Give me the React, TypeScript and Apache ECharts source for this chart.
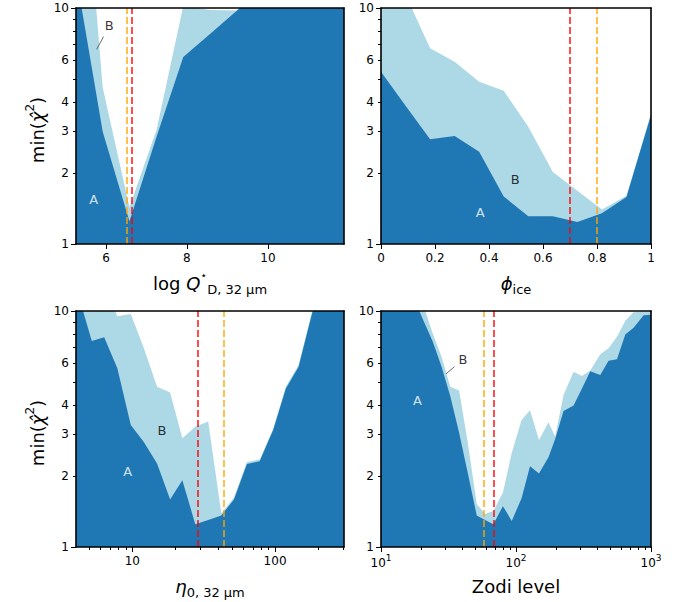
import React, { useEffect, useRef } from 'react';
import * as echarts from 'echarts';

const FONT = 'DejaVu Sans';
const DARK = '#1f77b4';
const LIGHT = '#add8e6';
const RED = 'rgba(255,0,0,0.7)';
const ORANGE = 'rgba(255,165,0,0.7)';

// Panel 1: log Q*_D
const qdX = [5.26, 5.92, 6.58, 7.25, 7.91, 8.57, 9.23, 9.9, 10.56, 11.22, 11.88];
const qdA = [13.8, 2.99, 1.25, 2.85, 6.2, 7.76, 9.73, 12.2, 14, 16, 18];
const qdB = [110, 4.6, 1.43, 3.05, 10.2, 9.8, 9.75, 12.2, 14, 16, 18];
const qdTicks = [6, 8, 10];

// Panel 2: phi_ice
const iceX = [0, 0.0909, 0.1818, 0.2727, 0.3636, 0.4545, 0.5455, 0.6364, 0.7273, 0.8182, 0.9091, 1.0];
const iceA = [5.37, 3.85, 2.78, 2.87, 2.46, 1.59, 1.31, 1.31, 1.24, 1.35, 1.58, 3.52];
const iceB = [16, 11.4, 6.75, 5.92, 4.87, 4.46, 3.14, 2.02, 1.68, 1.4, 1.6, 3.56];
const iceTicks = [0, 0.2, 0.4, 0.6, 0.8, 1];

// Panel 3: eta_0
const etaX = [3.43, 4.22, 5.2, 6.35, 7.85, 9.75, 12.0, 14.9, 18.4, 22.4, 27.6, 34, 42, 51.5, 63.5, 78, 97, 119, 146, 182, 224, 276, 340];
const etaA = [14, 11.5, 7.46, 7.74, 5.72, 3.29, 2.79, 2.26, 1.59, 1.92, 1.25, 1.3, 1.36, 1.59, 2.25, 2.31, 3.13, 4.7, 5.79, 9.8, 14, 20, 28];
const etaB = [40, 25, 16, 13, 9.5, 9.7, 7.0, 4.78, 4.52, 2.89, 3.23, 3.4, 1.39, 1.62, 2.29, 2.35, 3.18, 4.78, 5.9, 10, 14.5, 20.5, 28.5];
const etaTicks = [10, 100];
const etaMinor = [5, 6, 7, 8, 9, 20, 30, 40, 50, 60, 70, 80, 90, 200, 300];

// Panel 4: Zodi level
const zodiX = [10, 11.5, 13.3, 15.4, 17.9, 20.8, 24.2, 28.1, 32.6, 37.9, 44, 51.2, 59, 68, 80, 93, 110, 127, 148, 174, 195, 225, 267, 308, 355, 421, 485, 560, 645, 743, 882, 1000];
const zodiA = [20, 17, 15, 13, 11, 9.0, 7.4, 5.8, 4.35, 3.05, 2.05, 1.36, 1.3, 1.25, 1.49, 1.29, 1.61, 2.2, 2.05, 2.4, 2.87, 3.77, 3.98, 4.7, 5.55, 5.35, 6.15, 6.25, 7.95, 8.5, 9.6, 9.65];
const zodiB = [22, 19, 17, 15, 13, 10.4, 8.0, 6.4, 4.78, 4.6, 2.75, 1.52, 1.38, 1.42, 1.7, 2.5, 3.45, 3.8, 2.84, 3.38, 2.93, 4.41, 5.53, 5.3, 5.6, 6.55, 6.95, 7.78, 9.1, 9.87, 9.95, 9.95];
const zodiTicks = [10, 100, 1000];
const zodiExponents = ['1', '2', '3'];
const zodiMinor = [20, 30, 40, 50, 60, 70, 80, 90, 200, 300, 400, 500, 600, 700, 800, 900];

// y axis
const yLabels = [1, 2, 3, 4, 6, 10];
const yMajor = [1, 10];
const yMinor = [2, 3, 4, 5, 6, 7, 8, 9];

const RICH = {
  n: { fontSize: 18, fontFamily: FONT, color: '#000', lineHeight: 26, verticalAlign: 'middle' },
  i: { fontSize: 18, fontFamily: FONT, fontStyle: 'italic', color: '#000', lineHeight: 26, verticalAlign: 'middle' },
  s: { fontSize: 13, fontFamily: FONT, color: '#000', lineHeight: 11, verticalAlign: 'bottom' },
  st: { fontSize: 11, fontFamily: FONT, color: '#000', lineHeight: 10, verticalAlign: 'top' },
  p: { fontSize: 12, fontFamily: FONT, color: '#000', lineHeight: 12, verticalAlign: 'top' },
};

const TICK_RICH = {
  b: { fontSize: 12, fontFamily: FONT, color: '#000', lineHeight: 16, verticalAlign: 'bottom' },
  e: { fontSize: 9, fontFamily: FONT, color: '#000', lineHeight: 9, verticalAlign: 'top' },
};

type Panel = {
  left: number; top: number; width: number; height: number;
  xType: 'value' | 'log'; xMin: number; xMax: number;
  xTicks: number[]; xFmt: (v: number) => string; xMinor?: number[]; xRich?: any;
  xName: string; yName?: string;
  xs: number[]; a: number[]; b: number[];
  red: number; orange: number;
  annA: number[]; annB: number[]; pointer?: number[][];
};

const Y_NAME = '{n|min(}{i|χ̂}{p|2}{n|)}';

const panels: Panel[] = [
  {
    left: 76, top: 8, width: 268, height: 236,
    xType: 'value', xMin: 5.26, xMax: 11.88, xTicks: qdTicks, xFmt: (v) => String(v),
    xName: '{n|log }{i|Q}{st|⋆}{s|D, 32 µm}', yName: Y_NAME,
    xs: qdX, a: qdA, b: qdB, red: 6.635, orange: 6.51,
    annA: [5.7, 1.55], annB: [6.08, 8.39], pointer: [[5.94, 7.56], [5.77, 6.68]],
  },
  {
    left: 381, top: 8, width: 270, height: 236,
    xType: 'value', xMin: 0, xMax: 1, xTicks: iceTicks, xFmt: (v) => String(v),
    xName: '{i|ϕ}{s|ice}',
    xs: iceX, a: iceA, b: iceB, red: 0.7, orange: 0.8,
    annA: [0.367, 1.36], annB: [0.497, 1.88],
  },
  {
    left: 76, top: 311, width: 268, height: 236,
    xType: 'log', xMin: 4.03, xMax: 304, xTicks: etaTicks, xFmt: (v) => String(v), xMinor: etaMinor,
    xName: '{i|η}{s|0, 32 µm}', yName: Y_NAME,
    xs: etaX, a: etaA, b: etaB, red: 28.6, orange: 44,
    annA: [9.29, 2.08], annB: [16.1, 3.11],
  },
  {
    left: 381, top: 311, width: 270, height: 236,
    xType: 'log', xMin: 10, xMax: 1000, xTicks: zodiTicks,
    xFmt: (v) => '{b|10}{e|' + (zodiExponents[zodiTicks.indexOf(v)] ?? '') + '}', xMinor: zodiMinor, xRich: TICK_RICH,
    xName: '{n|Zodi level}',
    xs: zodiX, a: zodiA, b: zodiB, red: 68, orange: 58,
    annA: [18.6, 4.17], annB: [40.4, 6.26], pointer: [[35.0, 5.81], [30.3, 5.41]],
  },
];

const frameLine = { show: true, onZero: false, lineStyle: { color: '#000', width: 1.6 } };
const tickLine = { color: '#000', width: 1 };
const labelStyle = { fontSize: 12, fontFamily: FONT, color: '#000' };

function buildOption() {
  const grid: any[] = [];
  const xAxis: any[] = [];
  const yAxis: any[] = [];
  const series: any[] = [];

  panels.forEach((p, g) => {
    grid.push({ left: p.left, top: p.top, width: p.width, height: p.height });
    const xBase: any = { gridIndex: g, type: p.xType, min: p.xMin, max: p.xMax, splitLine: { show: false }, z: 10 };
    if (p.xType === 'log') xBase.logBase = 10;
    const xi = xAxis.length;
    const xLabel: any = { show: true, customValues: p.xTicks, formatter: p.xFmt, ...labelStyle, margin: p.xRich ? 6 : 8 };
    if (p.xRich) xLabel.rich = p.xRich;
    xAxis.push({
      ...xBase, position: 'bottom', axisLine: frameLine,
      axisTick: { show: true, customValues: p.xTicks, length: 5, lineStyle: tickLine },
      axisLabel: xLabel,
      name: p.xName, nameLocation: 'middle', nameGap: 26, nameTextStyle: { rich: RICH },
    });
    xAxis.push({ ...xBase, position: 'top', axisLine: frameLine, axisTick: { show: false }, axisLabel: { show: false } });
    if (p.xMinor) {
      xAxis.push({
        ...xBase, position: 'bottom', axisLine: { show: false, onZero: false },
        axisTick: { show: true, customValues: p.xMinor, length: 3, lineStyle: tickLine }, axisLabel: { show: false },
      });
    }
    const yBase: any = { gridIndex: g, type: 'log', logBase: 10, min: 1, max: 10, splitLine: { show: false }, z: 10 };
    const yi = yAxis.length;
    const yMain: any = {
      ...yBase, position: 'left', axisLine: frameLine,
      axisTick: { show: true, customValues: yMajor, length: 5, lineStyle: tickLine },
      axisLabel: { show: true, customValues: yLabels, formatter: (v: number) => String(v), ...labelStyle, margin: 7 },
    };
    if (p.yName) {
      Object.assign(yMain, {
        name: p.yName, nameLocation: 'middle', nameRotate: 90, nameGap: 26,
        nameTextStyle: { rich: RICH, padding: [0, 8, 0, 0] },
      });
    }
    yAxis.push(yMain);
    yAxis.push({
      ...yBase, position: 'left', axisLine: { show: false, onZero: false },
      axisTick: { show: true, customValues: yMinor, length: 3, lineStyle: tickLine }, axisLabel: { show: false },
    });
    yAxis.push({ ...yBase, position: 'right', axisLine: frameLine, axisTick: { show: false }, axisLabel: { show: false } });

    const common = { type: 'line', xAxisIndex: xi, yAxisIndex: yi, symbol: 'none', silent: true, clip: true, lineStyle: { width: 0 } };
    series.push({ ...common, data: p.xs.map((x, i) => [x, p.b[i]]), areaStyle: { color: LIGHT, opacity: 1, origin: 'start' } });
    series.push({
      ...common, data: p.xs.map((x, i) => [x, p.a[i]]), areaStyle: { color: DARK, opacity: 1, origin: 'start' },
      markLine: {
        silent: true, symbol: ['none', 'none'], label: { show: false },
        lineStyle: { type: [7, 3], width: 2 },
        data: [
          { xAxis: p.red, lineStyle: { color: RED, type: [7, 3], width: 2 } },
          { xAxis: p.orange, lineStyle: { color: ORANGE, type: [7, 3], width: 2 } },
        ],
      },
    });
    if (p.pointer) {
      series.push({ type: 'line', xAxisIndex: xi, yAxisIndex: yi, symbol: 'none', silent: true, data: p.pointer, lineStyle: { color: '#444', width: 0.8 } });
    }
    const ann = (pt: number[], txt: string, color: string) => ({
      type: 'scatter', xAxisIndex: xi, yAxisIndex: yi, silent: true, symbolSize: 0, data: [pt],
      label: { show: true, position: 'inside', formatter: txt, color, fontSize: 13, fontFamily: FONT },
      z: 5,
    });
    series.push(ann(p.annA, 'A', '#fff'));
    series.push(ann(p.annB, 'B', '#000'));
  });

  return { animation: false, backgroundColor: '#fff', grid, xAxis, yAxis, series };
}

export default function App() {
  const ref = useRef<HTMLDivElement>(null);
  useEffect(() => {
    const chart = echarts.init(ref.current!, null, { renderer: 'svg' });
    chart.setOption(buildOption() as any);
    return () => chart.dispose();
  }, []);
  return <div ref={ref} style={{ position: 'fixed', left: 0, top: 0, width: 691, height: 602, background: '#fff' }} />;
}
